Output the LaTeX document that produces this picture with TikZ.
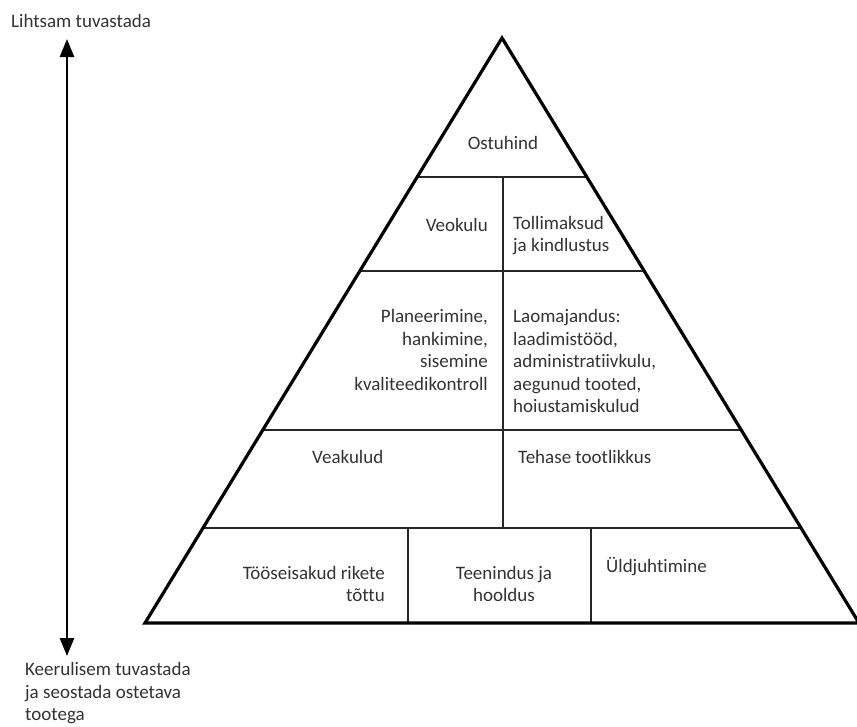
\documentclass[tikz,border=0pt]{standalone}
\usepackage{fontspec}
\setmainfont[RawFeature={-liga}]{Carlito}
\usetikzlibrary{arrows.meta,calc}
\begin{document}
\begin{tikzpicture}[x=1pt,y=-1pt,
  txt/.style={inner sep=0pt, text=black!80, font=\fontsize{19}{22.5}\selectfont},
  innerline/.style={line width=1.5pt, draw=black!85},
  outerline/.style={line width=3.2pt, line join=miter, draw=black},
  scalearrow/.style={line width=2.5pt, {Triangle[width=14pt,length=18pt]}-{Triangle[width=14pt,length=18pt]}},
]
\useasboundingbox (0,0) rectangle (857,726);
% triangle corners
\coordinate (A) at (502,38);
\coordinate (BL) at (145,623);
\coordinate (BR) at (859,623);
% horizontal division lines
\coordinate (L1) at ($(BL)!0.7624!(A)$); \coordinate (R1) at ($(BR)!0.7624!(A)$);
\coordinate (L2) at ($(BL)!0.6017!(A)$); \coordinate (R2) at ($(BR)!0.6017!(A)$);
\coordinate (L3) at ($(BL)!0.3299!(A)$); \coordinate (R3) at ($(BR)!0.3299!(A)$);
\coordinate (L4) at ($(BL)!0.1624!(A)$); \coordinate (R4) at ($(BR)!0.1624!(A)$);
\draw[innerline] (L1) -- (R1);
\draw[innerline] (L2) -- (R2);
\draw[innerline] (L3) -- (R3);
\draw[innerline] (L4) -- (R4);
% vertical division lines
\coordinate (V1t) at (503,177); \coordinate (V1b) at (503,528);
\coordinate (V2t) at (408,528); \coordinate (V2b) at (408,623);
\coordinate (V3t) at (591,528); \coordinate (V3b) at (591,623);
\draw[innerline] (V1t) -- (V1b);
\draw[innerline] (V2t) -- (V2b);
\draw[innerline] (V3t) -- (V3b);
% outline
\draw[outerline] (A) -- (BR) -- (BL) -- cycle;

% texts inside
\node[txt] (ostuhind) at (503,143) {Ostuhind};
\node[txt, anchor=east] (veokulu) at (488,225) {Veokulu};
\node[txt, anchor=west, align=left] (toll) at (513,235.5) {Tollimaksud\\ja kindlustus};
\node[txt, anchor=east, align=right] (plan) at (488,350) {Planeerimine,\\hankimine,\\sisemine\\kvaliteedikontroll};
\node[txt, anchor=west, align=left] (ladu) at (513,361) {Laomajandus:\\laadimistööd,\\administratiivkulu,\\aegunud tooted,\\hoiustamiskulud};
\node[txt, anchor=west] (vea) at (312,457) {Veakulud};
\node[txt, anchor=west] (tehas) at (518,457) {Tehase tootlikkus};
\node[txt, anchor=east, align=right] (seis) at (385,584) {Tööseisakud rikete\\tõttu};
\node[txt, align=center] (teenindus) at (504,584) {Teenindus ja\\hooldus};
\node[txt, anchor=west] (yld) at (606,567) {Üldjuhtimine};

% side scale
\node[txt, anchor=base west] (top) at (11,27) {Lihtsam tuvastada};
\node[txt, anchor=west, align=left] (bottom) at (25,693.5) {Keerulisem tuvastada\\ja seostada ostetava\\tootega};
\coordinate (arrTop) at (67,39);
\coordinate (arrBot) at (67,656);
\draw[scalearrow] (arrTop) -- (arrBot);
\end{tikzpicture}
\end{document}
